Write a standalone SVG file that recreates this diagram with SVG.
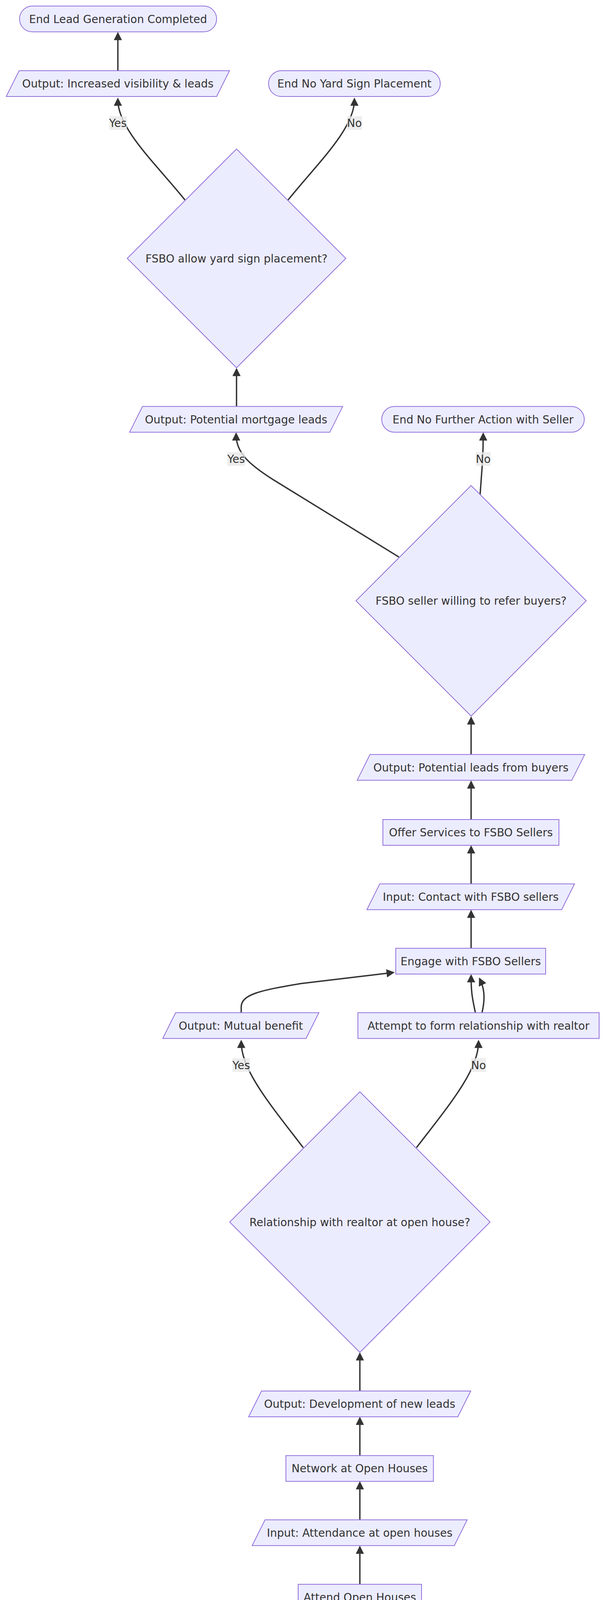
<svg xmlns="http://www.w3.org/2000/svg" width="1568" height="6504" viewBox="0 0 1568 6504">
<style>
.n{fill:#ECECFF;stroke:#9370DB;stroke-width:2}
.t{font-family:"DejaVu Sans","Liberation Sans",sans-serif;font-size:28px;fill:#333333;text-anchor:middle}
.e{fill:none;stroke:#333333;stroke-width:3.5;marker-end:url(#arr)}
.lb{fill:rgba(232,232,232,0.8);stroke:none}
</style>
<defs>
<marker id="arr" viewBox="0 0 10 10" refX="7" refY="5" markerWidth="21" markerHeight="21" markerUnits="userSpaceOnUse" orient="auto">
<path d="M0,0 L10,5 L0,10 z" fill="#333333"/>
</marker>
</defs>
<rect width="1568" height="6504" fill="#ffffff"/>
<g id="connectors">
<path class="e" d="M922,6354 L922,6261"/>
<path class="e" d="M922,6188.7 L922,6095"/>
<path class="e" d="M922,6023 L922,5930"/>
<path class="e" d="M922,5858.3 L922,5765"/>
<path class="e" d="M922,5693 L922,5600"/>
<path class="e" d="M922,5528 L922,5435"/>
<path class="e" d="M922,5363 L922,5270"/>
<path class="e" d="M922,5198 L922,5105"/>
<path class="e" d="M806,4703 L683,4553 C662,4527 654,4510 654,4460"/>
<path class="e" d="M1039,4703 L1142,4568 C1180,4520 1190,4490 1190,4430 L1190,4294"/>
<path class="e" d="M654,4387 L654,4294"/>
<path class="e" d="M654,4221 L654,4205 C654,4175 700,4160 805,4128"/>
<path class="e" d="M1190,4221 L1190,4205 C1190,4175 1144,4160 1039,4128"/>
<path class="e" d="M922,4055.8 L922,3963"/>
<path class="e" d="M922,3890.8 L922,3798"/>
<path class="e" d="M922,3726.3 L922,3633"/>
<path class="e" d="M922,3561 L922,3468"/>
<path class="e" d="M777,2938 C694,2830 618,2740 618,2668"/>
<path class="e" d="M1067,2938 C1150,2830 1226,2740 1226,2668"/>
<path class="e" d="M618,2592.5 L618,2578 C618,2545 670,2535 770,2518 L1005,2490"/>
<path class="e" d="M1218,2592.5 C1210,2555 1207,2540 1207,2500"/>
<path class="e" d="M1235,2592.5 C1242,2562 1243,2535 1230,2508"/>
<path class="e" d="M1207,2427.6 L1207,2335"/>
<path class="e" d="M1207,2262.7 L1207,2170"/>
<path class="e" d="M1207,2098 L1207,2004"/>
<path class="e" d="M1207,1931.6 L1207,1840"/>
<path class="e" d="M1022,1426 L700,1228 C640,1190 605,1160 605,1113"/>
<path class="e" d="M1230,1267 L1236,1185 C1237,1165 1238,1150 1238,1113"/>
<path class="e" d="M606,1040.6 L606,948"/>
<path class="e" d="M474,512 C400,420 302,330 302,256"/>
<path class="e" d="M738,512 C812,420 908,330 908,256"/>
<path class="e" d="M302,181 L302,88"/>
<g id="edge-labels">
<rect class="lb" x="280" y="297.5" width="45" height="35"/><text class="t" x="302" y="325">Yes</text>
<rect class="lb" x="889" y="297.5" width="38" height="35"/><text class="t" x="908" y="325">No</text>
<rect class="lb" x="582.5" y="1157.5" width="45" height="35"/><text class="t" x="605" y="1185">Yes</text>
<rect class="lb" x="1219" y="1157.5" width="38" height="35"/><text class="t" x="1238" y="1185">No</text>
<rect class="lb" x="595.5" y="2709" width="45" height="35"/><text class="t" x="618" y="2736.5">Yes</text>
<rect class="lb" x="1207" y="2709" width="38" height="35"/><text class="t" x="1226" y="2736.5">No</text>
<rect class="lb" x="631.5" y="4503.5" width="45" height="35"/><text class="t" x="654" y="4531">Yes</text>
<rect class="lb" x="1171" y="4402.5" width="38" height="35"/><text class="t" x="1190" y="4430">No</text>
</g>
</g>
<g id="end-lead-generation">
<rect class="n" x="50" y="15.5" width="505" height="66" rx="33" ry="33"/>
<text class="t" x="302.5" y="58.5">End Lead Generation Completed</text>
</g>
<g id="output-visibility">
<polygon class="n" points="16,247 49,181 588,181 555,247"/>
<text class="t" x="302" y="224">Output: Increased visibility &amp; leads</text>
</g>
<g id="end-no-yard-sign">
<rect class="n" x="688" y="181" width="440" height="66" rx="33" ry="33"/>
<text class="t" x="908" y="224">End No Yard Sign Placement</text>
</g>
<g id="decision-yard-sign">
<polygon class="n" points="606,381.5 886,661.5 606,941.5 326,661.5"/>
<text class="t" x="606" y="671.5">FSBO allow yard sign placement?</text>
</g>
<g id="output-mortgage-leads">
<polygon class="n" points="332,1106.6 365,1040.6 878,1040.6 845,1106.6"/>
<text class="t" x="605" y="1083.6">Output: Potential mortgage leads</text>
</g>
<g id="end-no-further-action">
<rect class="n" x="978" y="1040.6" width="519" height="66" rx="33" ry="33"/>
<text class="t" x="1237.5" y="1083.6">End No Further Action with Seller</text>
</g>
<g id="decision-refer-buyers">
<polygon class="n" points="1207,1243 1502,1538 1207,1833 912,1538"/>
<text class="t" x="1207" y="1548">FSBO seller willing to refer buyers?</text>
</g>
<g id="output-leads-buyers">
<polygon class="n" points="915,1997.6 948,1931.6 1498,1931.6 1465,1997.6"/>
<text class="t" x="1206.5" y="1974.6">Output: Potential leads from buyers</text>
</g>
<g id="offer-services">
<rect class="n" x="981" y="2098" width="451" height="66"/>
<text class="t" x="1206.5" y="2141">Offer Services to FSBO Sellers</text>
</g>
<g id="input-contact-fsbo">
<polygon class="n" points="940,2328.7 973,2262.7 1472,2262.7 1439,2328.7"/>
<text class="t" x="1206" y="2305.7">Input: Contact with FSBO sellers</text>
</g>
<g id="engage-fsbo">
<rect class="n" x="1014" y="2427.6" width="384" height="66"/>
<text class="t" x="1206" y="2470.6">Engage with FSBO Sellers</text>
</g>
<g id="output-mutual-benefit">
<polygon class="n" points="417,2658.5 450,2592.5 817,2592.5 784,2658.5"/>
<text class="t" x="617" y="2635.5">Output: Mutual benefit</text>
</g>
<g id="attempt-relationship">
<rect class="n" x="917" y="2592.5" width="618" height="66"/>
<text class="t" x="1226" y="2635.5">Attempt to form relationship with realtor</text>
</g>
<g id="decision-realtor-open-house">
<polygon class="n" points="922,2795 1255.5,3128.5 922,3462 588.5,3128.5"/>
<text class="t" x="922" y="3138.5">Relationship with realtor at open house?</text>
</g>
<g id="output-new-leads">
<polygon class="n" points="637,3627 670,3561 1206,3561 1173,3627"/>
<text class="t" x="921.5" y="3604">Output: Development of new leads</text>
</g>
<g id="network-open-houses">
<rect class="n" x="732.5" y="3726.3" width="378" height="66"/>
<text class="t" x="921.5" y="3769.3">Network at Open Houses</text>
</g>
<g id="input-attendance">
<polygon class="n" points="646,3956.8 679,3890.8 1197,3890.8 1164,3956.8"/>
<text class="t" x="921.5" y="3933.8">Input: Attendance at open houses</text>
</g>
<g id="attend-open-houses">
<rect class="n" x="764" y="4055.8" width="316" height="66"/>
<text class="t" x="922" y="4098.8">Attend Open Houses</text>
</g>
<g id="persistent-realtor">
<rect class="n" x="454" y="4221.4" width="398.5" height="66"/>
<text class="t" x="653" y="4264.4">Be Persistent with Realtor</text>
</g>
<g id="persistent-other-agents">
<rect class="n" x="950.5" y="4221.4" width="479" height="66"/>
<text class="t" x="1190" y="4264.4">Be Persistent with Other Agents</text>
</g>
<g id="output-stream-leads">
<polygon class="n" points="378,4453 411,4387 928,4387 895,4453"/>
<text class="t" x="653" y="4430">Output: Potential stream of leads</text>
</g>
<g id="decision-agent-interested">
<polygon class="n" points="922,4588.5 1177,4843.5 922,5098.5 667,4843.5"/>
<text class="t" x="922" y="4853.5">Real estate agent interested?</text>
</g>
<g id="input-introduction">
<polygon class="n" points="593,5264 626,5198 1250,5198 1217,5264"/>
<text class="t" x="921.5" y="5241">Input: Introduction and value proposition</text>
</g>
<g id="contact-agents">
<rect class="n" x="716.5" y="5363" width="411" height="66"/>
<text class="t" x="922" y="5406">Contact Real Estate Agents</text>
</g>
<g id="research-agents">
<rect class="n" x="659" y="5528" width="525.5" height="66"/>
<text class="t" x="922" y="5571">Research to find real estate agents</text>
</g>
<g id="locate-agents">
<rect class="n" x="724" y="5693" width="395" height="66"/>
<text class="t" x="921.5" y="5736">Locate Real Estate Agents</text>
</g>
<g id="output-likelihood">
<polygon class="n" points="588.5,5924.3 621.5,5858.3 1255,5858.3 1222,5924.3"/>
<text class="t" x="921.8" y="5901.3">Output: Increased likelihood of new leads</text>
</g>
<g id="input-membership">
<polygon class="n" points="635,6089 668,6023 1207.5,6023 1174.5,6089"/>
<text class="t" x="921.3" y="6066">Input: Membership in organizations</text>
</g>
<g id="join-organizations">
<rect class="n" x="692" y="6188.7" width="460" height="66"/>
<text class="t" x="922" y="6231.7">Join Community Organizations</text>
</g>
<g id="start-generating">
<rect class="n" x="666.5" y="6354" width="510.5" height="66" rx="33" ry="33"/>
<text class="t" x="922" y="6397">Start Generating Mortgage Leads</text>
</g>
</svg>
